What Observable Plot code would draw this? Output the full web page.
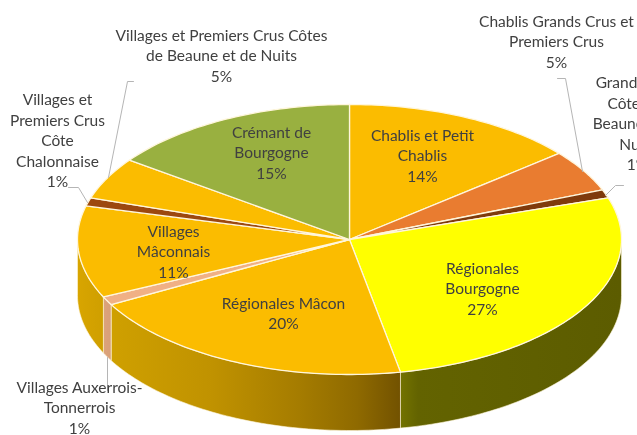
<!DOCTYPE html>
<html lang="fr">
<head>
<meta charset="utf-8">
<script src="https://cdn.jsdelivr.net/npm/d3@7"></script>
<script src="https://cdn.jsdelivr.net/npm/@observablehq/plot@0.6"></script>
<style>
  html, body { margin: 0; padding: 0; background: #fff; overflow: hidden; }
  svg { display: block; max-width: none; filter: blur(0.3px); }
</style>
</head>
<body>
<div id="chart"></div>
<script>
// ---- Data: clockwise from twelve o'clock ----
const labels = [
  "Chablis et Petit\nChablis",
  "Chablis Grands Crus et\nPremiers Crus",
  "Grands Crus\nCôtes de\nBeaune et de\nNuits",
  "Régionales\nBourgogne",
  "Régionales Mâcon",
  "Villages Auxerrois-\nTonnerrois",
  "Villages\nMâconnais",
  "Villages et\nPremiers Crus\nCôte\nChalonnaise",
  "Villages et Premiers Crus Côtes\nde Beaune et de Nuits",
  "Crémant de\nBourgogne"
];
const shares = [14, 5, 1, 27, 20, 1, 11, 1, 5, 15];

// ---- Styles and layout (separate from the data) ----
const topColors = ["#fbbc00", "#e97c30", "#7f3a0c", "#ffff00", "#fbbc00", "#f0b085", "#fbbc00", "#9c480f", "#fbbc00", "#99b040"];
const W = 637, H = 435;
const cx = 349, cy = 239, rx = 272, ry = 135, depthPx = 56;
const depth = depthPx / ry;
const X = (px) => (px - cx) / rx;
const Y = (py) => (py - cy) / ry;

// label centres in pixels, converted with X/Y
const labelAt = [[422,154],[556,40],[637,122],[482,287],[283,312],[79,406],[173,250],[57,139],[221,54],[271,151]];
const leaders = [
  [[557,78],[565,78],[582,171]],
  [[623,185],[615,185],[605,195]],
  [[107,357],[107,390]],
  [[68,187],[78,187],[87,202]],
  [[133,81],[127,81],[108,177]]
];

// ---- Pie geometry from the shares ----
const total = d3.sum(shares);
const arcs = d3.pie().sort(null).value(d => d)(shares);
const onRim = (a, dz = 0) => ({x: Math.sin(a), y: -Math.cos(a) + dz});
function arcPts(a0, a1, dz = 0) {
  const n = Math.max(2, Math.ceil((a1 - a0) / 0.02));
  return d3.range(n + 1).map(i => onRim(a0 + (a1 - a0) * i / n, dz));
}
const sector = (a) => {
  const c = {x: 0, y: 0};
  return [c, ...arcPts(a.startAngle, a.endAngle), c];
};
// Front walls: only the part of each slice between 90° and 270°
const wallGradients = {
  3: {id: "w3", stops: [[0, "#737300"], [0.08, "#636300"], [1, "#5c5c00"]]},
  4: {id: "w4", stops: [[0, "#cfa000"], [0.35, "#c09200"], [0.65, "#a57c00"], [0.85, "#8f6a00"], [1, "#725200"]]},
  5: {id: "w5", stops: [[0, "#dca37c"], [1, "#d89f78"]]},
  6: {id: "w6", stops: [[0, "#d8a500"], [1, "#cf9f00"]]}
};
const wall = (a) => {
  const a0 = Math.max(a.startAngle, Math.PI / 2), a1 = Math.min(a.endAngle, 3 * Math.PI / 2);
  if (a1 <= a0) return null;
  const top = arcPts(a0, a1), bottom = arcPts(a0, a1, depth).reverse();
  return [...top, ...bottom, top[0]];
};

const gradientDefs = () => {
  const defs = d3.create("svg:defs");
  for (const {id, stops} of Object.values(wallGradients)) {
    const g = defs.append("linearGradient").attr("id", id).attr("x1", 0).attr("x2", 1).attr("y1", 0).attr("y2", 0);
    for (const [o, c] of stops) g.append("stop").attr("offset", o).attr("stop-color", c);
  }
  return defs.node();
};

const rimColor = "#fff6dc";
const wallMarks = arcs.map((a, i) => {
  const pts = wall(a);
  if (!pts) return null;
  return Plot.line(pts, {x: "x", y: "y", fill: `url(#${wallGradients[i].id})`, stroke: rimColor, strokeWidth: 1, strokeOpacity: 0.6});
}).filter(Boolean);
const topMarks = arcs.map((a, i) =>
  Plot.line(sector(a), {x: "x", y: "y", fill: topColors[i], stroke: rimColor, strokeWidth: 1.3, strokeLinejoin: "round"})
);
const leaderMarks = leaders.map(l =>
  Plot.line(l.map(([px, py]) => ({x: X(px), y: Y(py)})), {x: "x", y: "y", stroke: "#b5b5b5", strokeWidth: 1})
);

const labelRows = labels.map((t, i) => ({
  text: `${t}\n${Math.round(shares[i] / total * 100)}%`,
  x: X(labelAt[i][0]),
  y: Y(labelAt[i][1])
}));

const chart = Plot.plot({
  width: W,
  height: H,
  margin: 0,
  style: {background: "#fff", fontFamily: "Lato, sans-serif"},
  x: {domain: [-1, 1], range: [cx - rx, cx + rx], axis: null},
  y: {domain: [-1, 1], range: [cy - ry, cy + ry], axis: null},
  marks: [
    gradientDefs,
    ...wallMarks,
    ...topMarks,
    ...leaderMarks,
    Plot.text(labelRows, {
      x: "x", y: "y", text: "text",
      fontSize: 15.5, lineHeight: 1.325, fill: "#404040", textAnchor: "middle"
    })
  ]
});
document.getElementById("chart").append(chart);
</script>
</body>
</html>
